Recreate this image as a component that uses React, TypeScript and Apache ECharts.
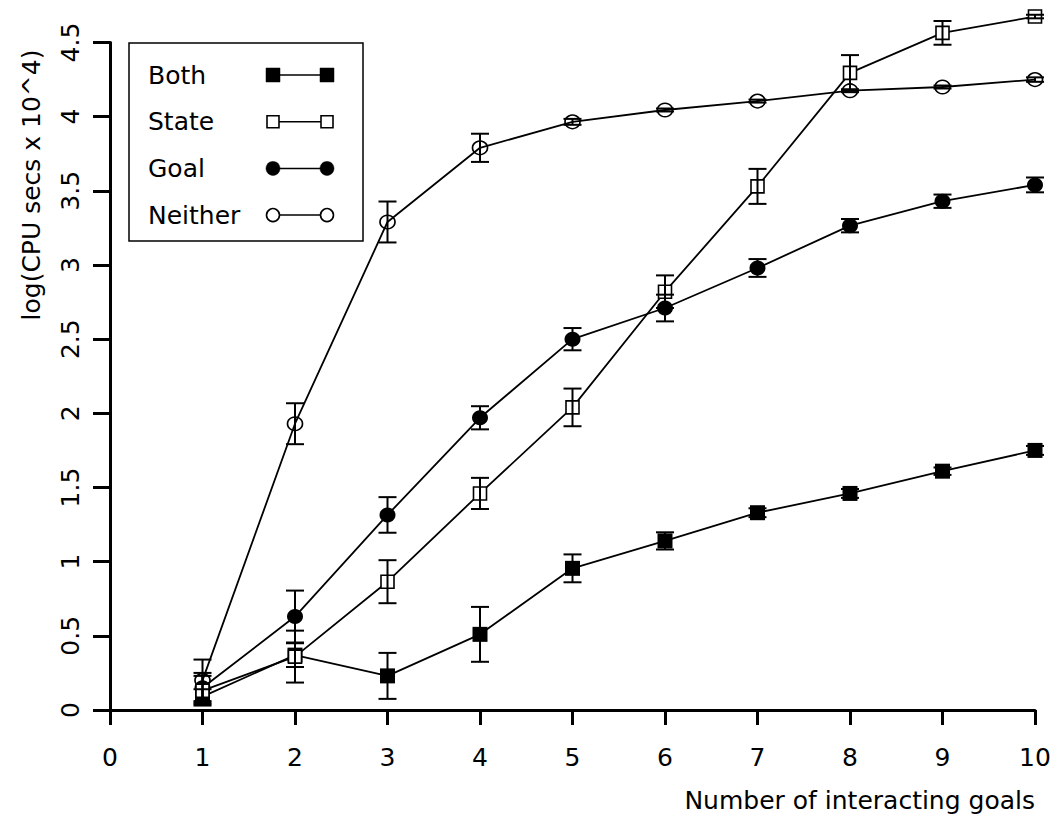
import React, { useEffect, useRef } from "react";
import * as echarts from "echarts";

const xValues = [1, 2, 3, 4, 5, 6, 7, 8, 9, 10];
const xTicks = [0, 1, 2, 3, 4, 5, 6, 7, 8, 9, 10];
const yTicks = [0, 0.5, 1, 1.5, 2, 2.5, 3, 3.5, 4, 4.5];

const seriesNames = ["Both", "State", "Goal", "Neither"];

const both = [0.09, 0.37, 0.23, 0.51, 0.955, 1.14, 1.33, 1.46, 1.61, 1.75];
const bothErr = [0.05, 0.08, 0.155, 0.185, 0.094, 0.058, 0.03, 0.03, 0.025, 0.03];

const state = [0.13, 0.36, 0.865, 1.46, 2.04, 2.82, 3.53, 4.295, 4.565, 4.675];
const stateErr = [0.1, 0.175, 0.145, 0.105, 0.127, 0.11, 0.118, 0.12, 0.08, 0.012];

const goal = [0.15, 0.63, 1.315, 1.97, 2.5, 2.71, 2.98, 3.265, 3.43, 3.54];
const goalErr = [0.1, 0.175, 0.12, 0.078, 0.075, 0.09, 0.06, 0.045, 0.045, 0.05];

const neither = [0.2, 1.93, 3.29, 3.79, 3.965, 4.045, 4.105, 4.175, 4.2, 4.25];
const neitherErr = [0.14, 0.138, 0.138, 0.095, 0.02, 0.01, 0.01, 0.01, 0.01, 0.015];

const yAxisTitle = "log(CPU secs x 10^4)";
const xAxisTitle = "Number of interacting goals";

const FONT = "DejaVu Sans, Liberation Sans, Arial, sans-serif";

type MarkerStyle = { symbol: string; size: number | number[]; fill: string; border: number };
const markers: MarkerStyle[] = [
  { symbol: "rect", size: 15, fill: "#000", border: 0 },
  { symbol: "rect", size: 13, fill: "#fff", border: 1.6 },
  { symbol: "circle", size: [16, 15], fill: "#000", border: 0 },
  { symbol: "circle", size: [15, 13.5], fill: "rgba(0,0,0,0)", border: 1.6 },
];

export default function App() {
  const ref = useRef<HTMLDivElement>(null);
  useEffect(() => {
    const chart = echarts.init(ref.current!, null, { renderer: "svg" });
    const values = [both, state, goal, neither];
    const errs = [bothErr, stateErr, goalErr, neitherErr];
    const zOrder = [2, 5, 3, 4];

    const lineSeries = values.map((vals, i) => ({
      type: "line",
      name: seriesNames[i],
      data: xValues.map((x, j) => [x, vals[j]]),
      symbol: markers[i].symbol,
      symbolSize: markers[i].size,
      showAllSymbol: true,
      clip: false,
      silent: true,
      z: zOrder[i],
      lineStyle: { color: "#000", width: 1.8 },
      itemStyle: {
        color: markers[i].fill,
        borderColor: "#000",
        borderWidth: markers[i].border,
        opacity: 1,
      },
    }));

    const errSeries = values.map((vals, i) => ({
      type: "custom",
      name: seriesNames[i] + " err",
      z: 10,
      clip: false,
      silent: true,
      data: xValues.map((x, j) => [x, vals[j] - errs[i][j], vals[j] + errs[i][j]]),
      encode: { x: 0, y: [1, 2] },
      renderItem: (_params: any, api: any) => {
        const x = api.value(0);
        const lo = api.coord([x, api.value(1)]);
        const hi = api.coord([x, api.value(2)]);
        const hw = 9;
        const st = { stroke: "#000", lineWidth: 2 };
        return {
          type: "group",
          children: [
            { type: "line", shape: { x1: lo[0], y1: lo[1], x2: hi[0], y2: hi[1] }, style: st },
            { type: "line", shape: { x1: lo[0] - hw, y1: lo[1], x2: lo[0] + hw, y2: lo[1] }, style: st },
            { type: "line", shape: { x1: hi[0] - hw, y1: hi[1], x2: hi[0] + hw, y2: hi[1] }, style: st },
          ],
        };
      },
    }));

    // Legend drawn with graphic elements (markers at both ends of line)
    const legendTop = 75;
    const legendStep = 46.7;
    const legendEls: any[] = [
      {
        type: "rect",
        shape: { x: 129, y: 43, width: 234, height: 198 },
        style: { fill: "#fff", stroke: "#000", lineWidth: 1.5 },
        z: 20,
      },
    ];
    seriesNames.forEach((name, i) => {
      const cy = legendTop + i * legendStep;
      legendEls.push({
        type: "text",
        x: 148,
        y: cy,
        z: 21,
        style: {
          text: name,
          font: `25px ${FONT}`,
          fill: "#000",
          align: "left",
          verticalAlign: "middle",
          textAlign: "left",
          textVerticalAlign: "middle",
        },
      });
      legendEls.push({
        type: "line",
        z: 21,
        shape: { x1: 273, y1: cy, x2: 327, y2: cy },
        style: { stroke: "#000", lineWidth: 1.5 },
      });
      [273, 327].forEach((mx) => {
        const m = markers[i];
        if (m.symbol === "rect") {
          const s = m.fill === "#000" ? 14 : 12;
          legendEls.push({
            type: "rect",
            z: 22,
            shape: { x: mx - s / 2, y: cy - s / 2, width: s, height: s },
            style: { fill: m.fill === "#000" ? "#000" : "#fff", stroke: "#000", lineWidth: m.border || 0.5 },
          });
        } else {
          legendEls.push({
            type: "circle",
            z: 22,
            shape: { cx: mx, cy, r: m.fill === "#000" ? 7 : 6.5 },
            style: { fill: m.fill === "#000" ? "#000" : "#fff", stroke: "#000", lineWidth: m.border || 0.5 },
          });
        }
      });
    });

    const option: any = {
      animation: false,
      backgroundColor: "#fff",
      grid: { left: 110, right: 24, top: 42.5, bottom: 106, containLabel: false },
      xAxis: {
        type: "value",
        min: xTicks[0],
        max: xTicks[xTicks.length - 1],
        interval: 1,
        axisLine: { show: true, onZero: false, lineStyle: { color: "#000", width: 3 } },
        axisTick: { show: true, length: 15, lineStyle: { color: "#000", width: 3 } },
        axisLabel: {
          color: "#000",
          fontSize: 25,
          fontFamily: FONT,
          margin: 35,
          formatter: (v: number) => String(v),
        },
        splitLine: { show: false },
      },
      yAxis: {
        type: "value",
        min: yTicks[0],
        max: yTicks[yTicks.length - 1],
        interval: 0.5,
        axisLine: { show: true, onZero: false, lineStyle: { color: "#000", width: 3 } },
        axisTick: { show: true, length: 17, lineStyle: { color: "#000", width: 3 } },
        axisLabel: {
          color: "#000",
          fontSize: 25,
          fontFamily: FONT,
          rotate: 90,
          margin: 27,
          formatter: (v: number) => String(v),
        },
        splitLine: { show: false },
      },
      series: [...lineSeries, ...errSeries],
      graphic: [
        ...legendEls,
        {
          type: "text",
          x: 31,
          y: 185,
          rotation: Math.PI / 2,
          style: {
            text: yAxisTitle,
            font: `25px ${FONT}`,
            fill: "#000",
            align: "center",
            verticalAlign: "middle",
            textAlign: "center",
            textVerticalAlign: "middle",
          },
        },
        {
          type: "text",
          x: 1035,
          y: 800,
          style: {
            text: xAxisTitle,
            font: `25px ${FONT}`,
            fill: "#000",
            align: "right",
            verticalAlign: "middle",
            textAlign: "right",
            textVerticalAlign: "middle",
          },
        },
      ],
    };
    chart.setOption(option);
    return () => chart.dispose();
  }, []);
  return (
    <div
      ref={ref}
      style={{ position: "absolute", left: 0, top: 0, width: 1059, height: 816, background: "#fff" }}
    />
  );
}
